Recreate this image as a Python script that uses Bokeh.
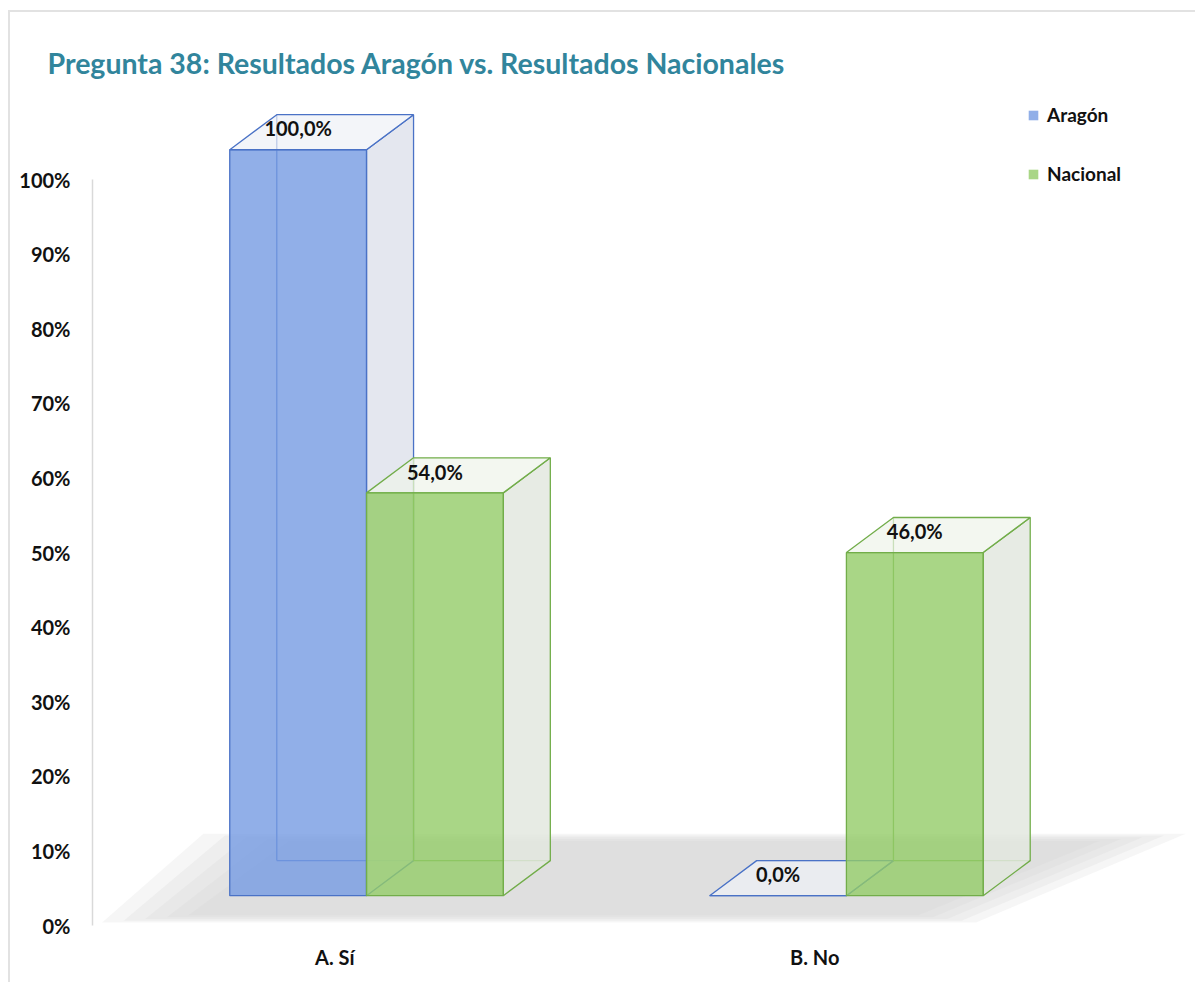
from bokeh.plotting import figure
from bokeh.models import Range1d, FixedTicker, Legend, LegendItem
from bokeh.core.properties import value
from bokeh.embed import file_html
from bokeh.resources import INLINE

# ---------------- data ----------------
categories = ["A. Sí", "B. No"]
series_names = ["Aragón", "Nacional"]
aragon = [100.0, 0.0]
nacional = [54.0, 46.0]
y_ticks = [0, 10, 20, 30, 40, 50, 60, 70, 80, 90, 100]
y_tick_labels = ["0%", "10%", "20%", "30%", "40%", "50%", "60%", "70%", "80%", "90%", "100%"]
title_text = "Pregunta 38: Resultados Aragón vs. Resultados Nacionales"

# ---------------- style ----------------
FONT = "Lato"
W = 0.285      # bar width (category units)
DX = 0.098     # 3D depth offset x (category units)
DY = 4.7       # 3D depth offset y (axis units)
BASE = 4.0     # front face floor offset (axis units)
LABEL_SHIFT = -0.066

styles = [
    dict(fill="#759be2", side="#dfe3ec", top="#eef1f6", line="#4a72c6"),
    dict(fill="#93cc68", side="#e3e8df", top="#eef3ea", line="#72ad4a"),
]

p = figure(width=1187, height=972, output_backend="svg", toolbar_location=None,
           x_range=Range1d(-0.571, 1.717), y_range=Range1d(-0.67, 110.6),
           min_border_left=82, min_border_right=7, min_border_top=88, min_border_bottom=54)
p.outline_line_color = None
p.xgrid.visible = False
p.ygrid.visible = False
p.background_fill_color = "white"
p.border_fill_color = "white"
p.styles = {"margin-left": "8px", "margin-top": "10px",
            "border-top": "2px solid #e2e2e2", "border-left": "2px solid #e2e2e2"}

# title
p.title.text = title_text
p.title.align = "left"
p.title.offset = -45
p.title.standoff = 41
p.title.text_font = FONT
p.title.text_font_style = "bold"
p.title.text_font_size = "28.5px"
p.title.text_color = "#31859c"

# floor (soft grey shadow, layered for a fuzzy edge)
x0r, x1r = p.x_range.start, p.x_range.end
for k in range(5):
    sh = 0.03 * k
    fx = [x0r + 0.02 + sh * 1.5, 1.27 - sh, x1r - 0.01 - sh * 1.5, -0.34 + sh * 1.5]
    fy = [0.4 + sh * 8, 0.4 + sh * 8, 12.3 - sh * 8, 12.3 - sh * 8]
    p.patch(fx, fy, fill_color="#d4d4d4", fill_alpha=0.2, line_color=None)

# 3D boxes
series_vals = [aragon, nacional]
offsets = [-W, 0.0]
legend_renderers = []
for s, vals in enumerate(series_vals):
    st = styles[s]
    lefts = [i + offsets[s] for i in range(len(categories))]
    bx, by = [], []
    side_xs, side_ys, top_xs, top_ys = [], [], [], []
    for x0, v in zip(lefts, vals):
        x1 = x0 + W
        y0, y1 = BASE, BASE + v
        bx += [[x0 + DX, x0 + DX], [x0 + DX, x1 + DX]]
        by += [[y0 + DY, y1 + DY], [y0 + DY, y0 + DY]]
        side_xs.append([x1, x1 + DX, x1 + DX, x1])
        side_ys.append([y0, y0 + DY, y1 + DY, y1])
        top_xs.append([x0, x1, x1 + DX, x0 + DX])
        top_ys.append([y1, y1, y1 + DY, y1 + DY])
    p.multi_line(bx, by, line_color=st["line"], line_width=1.3)
    p.patches(side_xs, side_ys, fill_color=st["side"], fill_alpha=0.85,
              line_color=st["line"], line_width=1.3)
    p.patches(top_xs, top_ys, fill_color=st["top"], fill_alpha=0.7,
              line_color=st["line"], line_width=1.3)
    rights = [l + W for l in lefts]
    bottoms = [BASE] * len(vals)
    tops = [BASE + v for v in vals]
    rf = p.quad(left=lefts, right=rights, bottom=bottoms, top=tops,
                fill_color=st["fill"], fill_alpha=0.8, line_color=None)
    p.quad(left=lefts, right=rights, bottom=bottoms, top=tops,
           fill_color=None, line_color=st["line"], line_width=1.3)
    legend_renderers.append(rf)

# data labels
for s, vals in enumerate(series_vals):
    xs = [i + offsets[s] + W / 2 for i in range(len(categories))]
    ys = [BASE + v + DY / 2 + 0.5 for v in vals]
    txt = [f"{v:.1f}%".replace(".", ",") for v in vals]
    p.text(x=xs, y=ys, text=txt, text_align="center", text_baseline="middle",
           text_font=value(FONT), text_font_style="bold", text_font_size="20px",
           text_color="#111111")

# axes
p.yaxis.ticker = FixedTicker(ticks=y_ticks)
p.yaxis.major_label_overrides = {t: l for t, l in zip(y_ticks, y_tick_labels)}
p.yaxis.bounds = (0, 100)
p.yaxis.axis_line_color = "#d9d9d9"
p.yaxis.axis_line_width = 1.5
p.yaxis.major_tick_line_color = None
p.yaxis.minor_tick_line_color = None
p.yaxis.major_tick_out = 0
p.yaxis.major_label_standoff = 22
p.yaxis.major_label_text_font = FONT
p.yaxis.major_label_text_font_style = "bold"
p.yaxis.major_label_text_font_size = "20px"
p.yaxis.major_label_text_color = "#111111"

x_ticks = [round(i + LABEL_SHIFT, 3) for i in range(len(categories))]
p.xaxis.ticker = FixedTicker(ticks=x_ticks)
p.xaxis.major_label_overrides = {t: l for t, l in zip(x_ticks, categories)}
p.xaxis.axis_line_color = None
p.xaxis.major_tick_line_color = None
p.xaxis.minor_tick_line_color = None
p.xaxis.major_tick_out = 0
p.xaxis.major_label_standoff = 14
p.xaxis.major_label_text_font = FONT
p.xaxis.major_label_text_font_style = "bold"
p.xaxis.major_label_text_font_size = "20px"
p.xaxis.major_label_text_color = "#111111"

# legend
items = [LegendItem(label=name, renderers=[r]) for name, r in zip(series_names, legend_renderers)]
legend = Legend(items=items, location=(935, 745), orientation="vertical",
                spacing=36, glyph_width=12, glyph_height=12, label_standoff=8,
                padding=0, margin=0, border_line_color=None, background_fill_alpha=0,
                label_text_font=FONT, label_text_font_style="bold",
                label_text_font_size="19px", label_text_color="#111111",
                label_height=20)
p.add_layout(legend)

open("out.html", "w").write(file_html(p, INLINE))
